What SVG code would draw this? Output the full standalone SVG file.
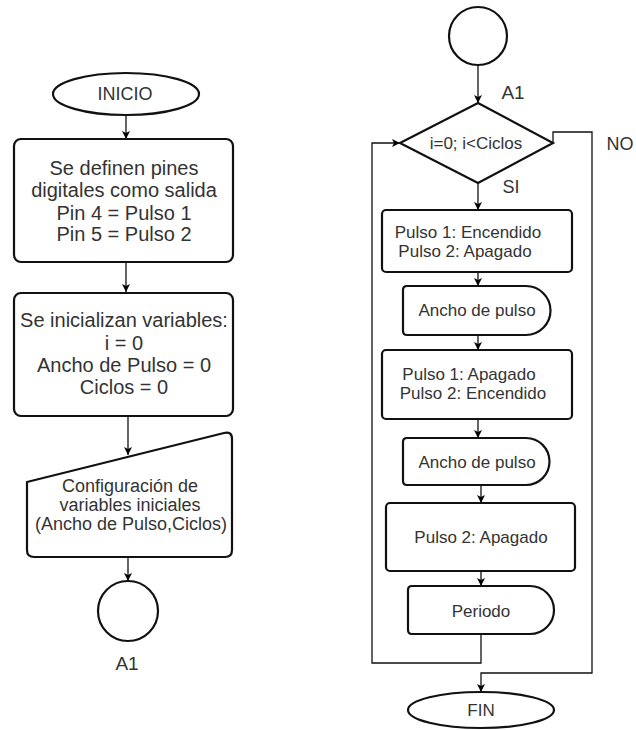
<svg xmlns="http://www.w3.org/2000/svg" width="636" height="730" viewBox="0 0 636 730">
<defs>
<marker id="ah" viewBox="0 0 10 10" refX="10" refY="5" markerWidth="8" markerHeight="8" markerUnits="userSpaceOnUse" orient="auto"><path d="M0,0 L10,5 L0,10 L2.5,5 Z" fill="#000"/></marker>
<style>
.s{fill:#fff;stroke:#111;stroke-width:2.2}
.c{fill:none;stroke:#111;stroke-width:1.3}
.a{marker-end:url(#ah)}
text{font-family:"Liberation Sans",Arial,sans-serif;fill:#333;text-anchor:middle;dominant-baseline:central}
.b{font-size:20px}
.m{font-size:17px}
.l{font-size:18px}
.k{font-size:19px}
</style>
</defs>
<rect width="636" height="730" fill="#fff"/>
<g id="connectors">
<path class="c a" d="M126,115 V139"/>
<path class="c a" d="M126,262 V292"/>
<path class="c a" d="M128,416 V455"/>
<path class="c a" d="M128,557 V581"/>
<path class="c a" d="M478,65 V103"/>
<path class="c a" d="M478,183 V210"/>
<path class="c a" d="M478,272 V286"/>
<path class="c a" d="M478,335 V350"/>
<path class="c a" d="M478,419 V438"/>
<path class="c a" d="M481,485 V503"/>
<path class="c a" d="M481,571 V586"/>
<path class="c a" d="M481,634 V663 H372 V143 H400"/>
<path class="c a" d="M553,143 V132 H592 V673 H481 V692"/>
<text class="l" x="511" y="187">SI</text>
<text class="l" x="620" y="144">NO</text>
</g>
<g id="inicio"><ellipse class="s" cx="126" cy="94" rx="73" ry="21"/><text class="l" x="125" y="94">INICIO</text></g>
<g id="definir"><rect class="s" x="14" y="139" width="219" height="123" rx="7"/>
<text class="b" x="124" y="168">Se definen pines</text>
<text class="b" x="124" y="190">digitales como salida</text>
<text class="b" x="124" y="213">Pin 4 = Pulso 1</text>
<text class="b" x="124" y="234">Pin 5 = Pulso 2</text></g>
<g id="inicializar"><rect class="s" x="14" y="293" width="219" height="123" rx="7"/>
<text class="b" x="124" y="320">Se inicializan variables:</text>
<text class="b" x="124" y="343">i = 0</text>
<text class="b" x="124" y="365">Ancho de Pulso = 0</text>
<text class="b" x="124" y="387">Ciclos = 0</text></g>
<g id="configuracion"><path class="s" d="M27,482 L224,433 Q232,431 232,439 V550 Q232,557 225,557 H34 Q27,557 27,550 Z"/>
<text class="l" x="130" y="486">Configuración de</text>
<text class="l" x="130" y="505">variables iniciales</text>
<text class="l" x="131" y="524">(Ancho de Pulso,Ciclos)</text></g>
<g id="a1-out"><circle class="s" cx="128" cy="611" r="30"/><text class="k" x="127" y="663">A1</text></g>
<g id="a1-in"><circle class="s" cx="478" cy="36" r="29"/><text class="k" x="513" y="92">A1</text></g>
<g id="decision"><path class="s" d="M478,103 L553,143 L478,183 L400,143 Z"/><text class="m" x="476" y="143">i=0; i&lt;Ciclos</text></g>
<g id="pulso-on"><rect class="s" x="382" y="210" width="190" height="62" rx="4"/>
<text class="m" x="468" y="232">Pulso 1: Encendido</text>
<text class="m" x="465" y="251">Pulso 2: Apagado</text></g>
<g id="ancho1"><path class="s" d="M407,286 H526 A24.5,24.5 0 0 1 526,335 H407 Q403,335 403,331 V290 Q403,286 407,286 Z"/><text class="m" x="477" y="310">Ancho de pulso</text></g>
<g id="pulso-off"><rect class="s" x="382" y="350" width="190" height="69" rx="4"/>
<text class="m" x="469" y="374">Pulso 1: Apagado</text>
<text class="m" x="473" y="393">Pulso 2: Encendido</text></g>
<g id="ancho2"><path class="s" d="M407,438 H526 A23.5,23.5 0 0 1 526,485 H407 Q403,485 403,481 V442 Q403,438 407,438 Z"/><text class="m" x="477" y="462">Ancho de pulso</text></g>
<g id="pulso2-off"><rect class="s" x="386" y="503" width="189" height="68" rx="4"/>
<text class="m" x="481" y="537">Pulso 2: Apagado</text></g>
<g id="periodo"><path class="s" d="M412,586 H530 A24,24 0 0 1 530,634 H412 Q408,634 408,630 V590 Q408,586 412,586 Z"/><text class="m" x="481" y="611">Periodo</text></g>
<g id="fin"><ellipse class="s" cx="481" cy="710" rx="73" ry="18"/><text class="m" x="481" y="710">FIN</text></g>
</svg>
